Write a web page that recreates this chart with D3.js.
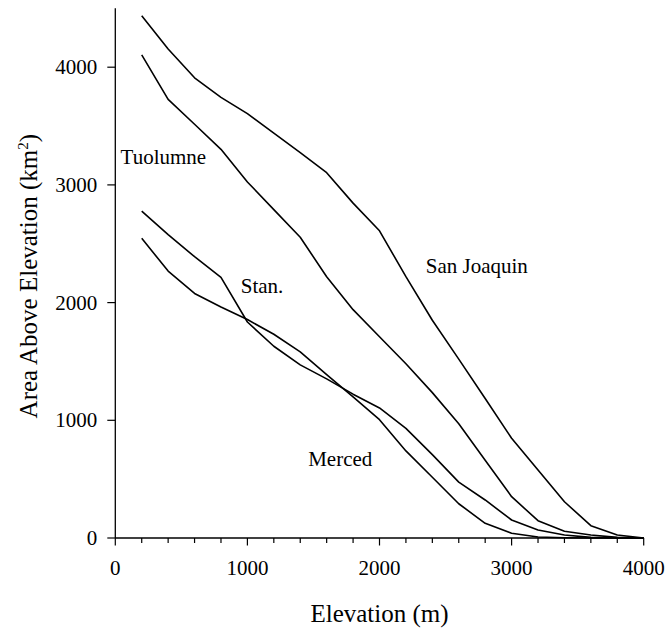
<!DOCTYPE html>
<html>
<head>
<meta charset="utf-8">
<script src="https://cdn.jsdelivr.net/npm/d3@7"></script>
<style>
  html, body { margin: 0; padding: 0; background: #fff; }
</style>
</head>
<body>
<svg id="chart" width="671" height="632" font-family="'Liberation Serif', 'DejaVu Serif', serif"></svg>
<script>
// Elevation (m) sample points
const elevation = [200, 400, 600, 800, 1000, 1200, 1400, 1600, 1800, 2000,
                   2200, 2400, 2600, 2800, 3000, 3200, 3400, 3600, 3800, 4000];
// Area above elevation (km^2) per basin
const sanJoaquin = [4437, 4155, 3910, 3744, 3605, 3440, 3275, 3104, 2845, 2610,
                    2220, 1850, 1520, 1185, 847, 578, 308, 105, 25, 0];
const tuolumne   = [4104, 3727, 3515, 3302, 3025, 2790, 2555, 2220, 1940, 1710,
                    1480, 1235, 970, 660, 351, 147, 58, 25, 5, 0];
const stanislaus = [2778, 2578, 2390, 2215, 1835, 1629, 1471, 1352, 1222, 1105,
                    931, 708, 475, 323, 153, 68, 25, 5, 1, 0];
const merced     = [2546, 2268, 2078, 1962, 1856, 1731, 1582, 1388, 1199, 1005,
                    740, 516, 291, 125, 40, 8, 2, 0, 0, 0];
const seriesNames = ["San Joaquin", "Tuolumne", "Stan.", "Merced"];
const xTicks = [0, 1000, 2000, 3000, 4000];
const xMinorTicks = d3.range(0, 4001, 200);
const yTicks = [0, 1000, 2000, 3000, 4000];

// Label anchor points in data units (elevation, area)
const labels = [
  { text: "San Joaquin", x: 2350, y: 2250 },
  { text: "Tuolumne",    x: 40,   y: 3180 },
  { text: "Stan.",       x: 950,  y: 2085 },
  { text: "Merced",      x: 1460, y: 610 }
];

const FONT = "'Liberation Serif', 'Times New Roman', 'DejaVu Serif', serif";
const svg = d3.select("#chart");
const x = d3.scaleLinear().domain([0, 4000]).range([115.3, 643.7]);
const y = d3.scaleLinear().domain([0, 4500]).range([538, 8.35]);

// X axis
const xAxisG = svg.append("g").attr("transform", "translate(0,538)");
xAxisG.append("line").attr("x1", x(0)).attr("x2", x(4000)).attr("y1", 0).attr("y2", 0)
  .attr("stroke", "#000").attr("stroke-width", 1.3);
xAxisG.selectAll("line.minor").data(xMinorTicks).enter().append("line")
  .attr("class", "minor")
  .attr("x1", d => x(d)).attr("x2", d => x(d))
  .attr("y1", 0).attr("y2", d => d % 1000 === 0 ? 7.5 : 5)
  .attr("stroke", "#000").attr("stroke-width", 1.2);
xAxisG.selectAll("text").data(xTicks).enter().append("text")
  .attr("x", d => x(d)).attr("y", 37)
  .attr("text-anchor", "middle").attr("font-size", 21).attr("font-family", FONT)
  .text(d => d);

// Y axis
const yAxisG = svg.append("g");
yAxisG.append("line").attr("x1", x(0)).attr("x2", x(0)).attr("y1", y(4500)).attr("y2", y(0))
  .attr("stroke", "#000").attr("stroke-width", 1.3);
yAxisG.selectAll("line.tick").data(yTicks).enter().append("line")
  .attr("class", "tick")
  .attr("x1", x(0) - 8).attr("x2", x(0))
  .attr("y1", d => y(d)).attr("y2", d => y(d))
  .attr("stroke", "#000").attr("stroke-width", 1.2);
yAxisG.selectAll("text").data(yTicks).enter().append("text")
  .attr("x", x(0) - 18).attr("y", d => y(d)).attr("dy", "0.33em")
  .attr("text-anchor", "end").attr("font-size", 21).attr("font-family", FONT)
  .text(d => d);

// Lines
const allSeries = [sanJoaquin, tuolumne, stanislaus, merced];
const line = d3.line().x((d, i) => x(elevation[i])).y(d => y(d));
svg.append("g").selectAll("path").data(allSeries).enter().append("path")
  .attr("d", d => line(d))
  .attr("fill", "none").attr("stroke", "#000").attr("stroke-width", 1.6)
  .attr("stroke-linejoin", "round");

// Series labels
svg.append("g").selectAll("text").data(labels).enter().append("text")
  .attr("x", d => x(d.x)).attr("y", d => y(d.y))
  .attr("font-size", 21).attr("font-family", FONT)
  .text(d => d.text);

// Axis titles
svg.append("text")
  .attr("x", (x(0) + x(4000)) / 2).attr("y", 622)
  .attr("text-anchor", "middle").attr("font-size", 25).attr("font-family", FONT)
  .text("Elevation (m)");

const yt = svg.append("text")
  .attr("transform", `translate(37,${(y(0) + y(4500)) / 2 + 3}) rotate(-90)`)
  .attr("text-anchor", "middle").attr("font-size", 25).attr("font-family", FONT);
yt.append("tspan").text("Area Above Elevation (km");
yt.append("tspan").attr("font-size", 15).attr("dy", "-9").text("2");
yt.append("tspan").attr("dy", "9").text(")");
</script>
</body>
</html>
